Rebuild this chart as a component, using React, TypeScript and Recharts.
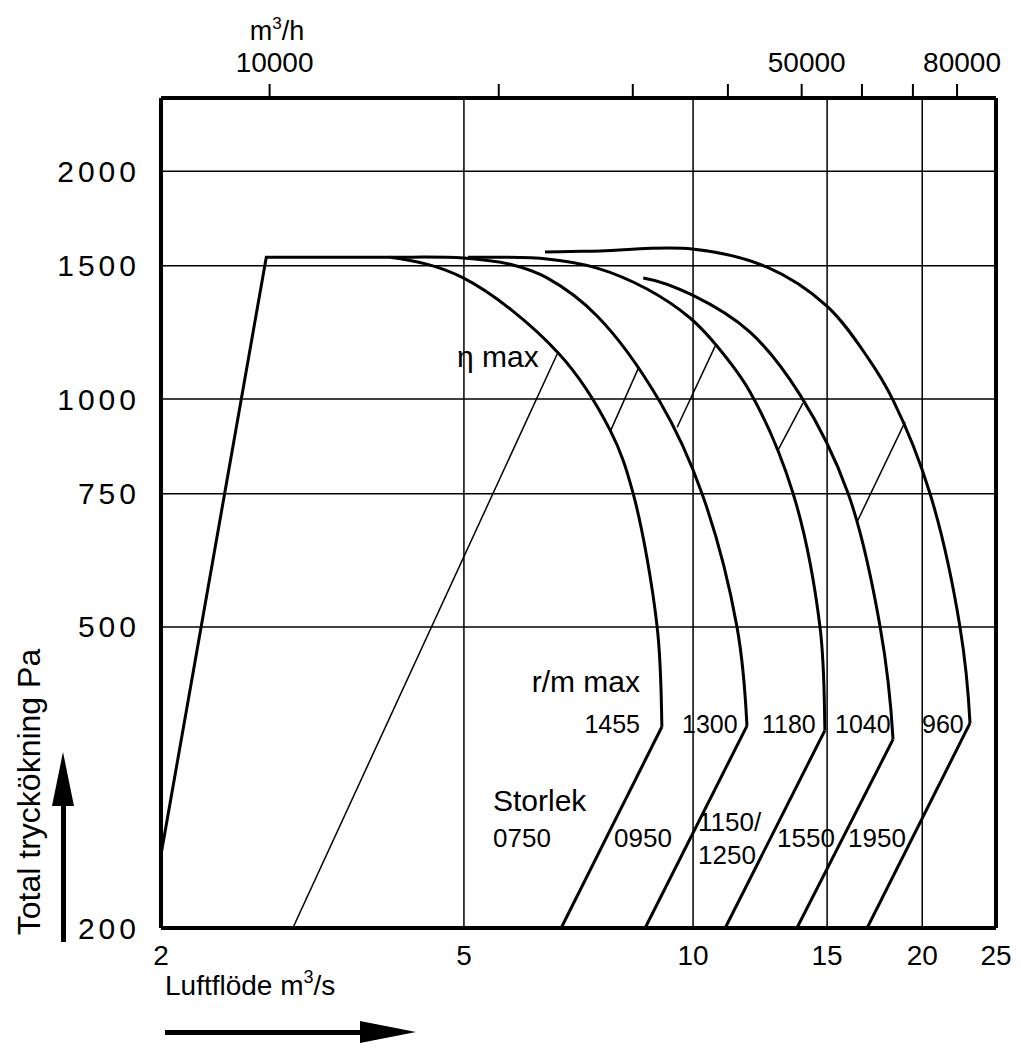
import React from 'react';
import { LineChart, Line, XAxis, YAxis, ReferenceLine } from 'recharts';

// axes
const flowTicks = [2, 5, 10, 15, 20, 25];
const hourTicks = [10000, 20000, 30000, 40000, 50000, 60000, 70000, 80000];
const hourLabels = [10000, 50000, 80000];
const pressureTicks = [200, 500, 750, 1000, 1500, 2000];
const gridFlows = [5, 10, 15, 20];
const gridPressures = [500, 750, 1000, 1500, 2000];

// size 0750, 1455 r/m
const surge0750 = [{ x: 2.0, y: 250 }, { x: 2.75, y: 1540 }, { x: 4.0, y: 1540 }];
const arc0750 = [
  { x: 4.0, y: 1540 }, { x: 4.99, y: 1446 }, { x: 6.65, y: 1151 },
  { x: 7.78, y: 910 }, { x: 8.34, y: 751 }, { x: 8.97, y: 500 }, { x: 9.1, y: 369 },
];
const leg0750 = [{ x: 9.1, y: 369 }, { x: 6.71, y: 200 }];

// size 0950, 1300 r/m
const arc0950 = [
  { x: 4.0, y: 1540 }, { x: 4.99, y: 1536 }, { x: 5.8, y: 1504 }, { x: 6.43, y: 1446 },
  { x: 7.48, y: 1288 }, { x: 9.05, y: 991 }, { x: 10.27, y: 751 }, { x: 11.42, y: 500 },
  { x: 11.77, y: 370 },
];
const leg0950 = [{ x: 11.77, y: 370 }, { x: 8.65, y: 200 }];

// size 1150/1250, 1180 r/m
const arc1150 = [
  { x: 5.06, y: 1540 }, { x: 6.43, y: 1532 }, { x: 7.48, y: 1490 }, { x: 8.7, y: 1398 },
  { x: 9.91, y: 1280 }, { x: 10.72, y: 1179 }, { x: 11.88, y: 1022 }, { x: 13.53, y: 751 },
  { x: 14.68, y: 500 }, { x: 14.9, y: 365 },
];
const leg1150 = [{ x: 14.9, y: 365 }, { x: 11.02, y: 200 }];

// size 1550, 1040 r/m
const arc1550 = [
  { x: 8.6, y: 1446 }, { x: 9.97, y: 1373 }, { x: 11.88, y: 1226 }, { x: 13.82, y: 1013 },
  { x: 15.98, y: 751 }, { x: 17.61, y: 500 }, { x: 18.31, y: 355 },
];
const leg1550 = [{ x: 18.31, y: 355 }, { x: 13.69, y: 200 }];

// size 1950, 960 r/m
const arc1950 = [
  { x: 6.39, y: 1565 }, { x: 7.55, y: 1570 }, { x: 9.97, y: 1579 }, { x: 12.51, y: 1494 },
  { x: 14.99, y: 1327 }, { x: 16.98, y: 1133 }, { x: 18.31, y: 997 }, { x: 20.47, y: 751 },
  { x: 22.42, y: 500 }, { x: 23.11, y: 373 },
];
const leg1950 = [{ x: 23.11, y: 373 }, { x: 16.93, y: 200 }];

// eta max lines
const eta0750 = [{ x: 2.98, y: 200 }, { x: 6.63, y: 1147 }];
const eta0950 = [{ x: 7.78, y: 905 }, { x: 8.49, y: 1103 }];
const eta1150 = [{ x: 9.53, y: 918 }, { x: 10.69, y: 1175 }];
const eta1550 = [{ x: 12.93, y: 856 }, { x: 13.94, y: 988 }];
const eta1950 = [{ x: 16.42, y: 688 }, { x: 18.99, y: 933 }];

const arcs = [arc0750, arc0950, arc1150, arc1550, arc1950];
const legs = [surge0750, leg0750, leg0950, leg1150, leg1550, leg1950];
const etas = [eta0750, eta0950, eta1150, eta1550, eta1950];

const FONT = 'Liberation Sans, Arial, Helvetica, sans-serif';

// top axis shares the m3/s scale, ticks placed at m3/h values
const hourTickFlows = hourTicks.map((h) => h / 3600);

// centripetal catmull-rom through the read points (pixel space);
// arcs leave flat at the start and run into vertical at r/m max
const smoothCurve = (context: any) => {
  let pts: number[][] = [];
  return {
    areaStart() {},
    areaEnd() {},
    lineStart() { pts = []; },
    point(x: number, y: number) { pts.push([+x, +y]); },
    lineEnd() {
      const n = pts.length;
      if (!n) return;
      context.moveTo(pts[0][0], pts[0][1]);
      if (n === 1) return;
      const len = (a: number[], b: number[]) => Math.sqrt(Math.hypot(b[0] - a[0], b[1] - a[1]));
      for (let i = 0; i < n - 1; i++) {
        const p1 = pts[i];
        const p2 = pts[i + 1];
        const p0 = pts[i - 1] || [2 * p1[0] - p2[0], p1[1]];
        const p3 = pts[i + 2] || [p2[0], 2 * p2[1] - p1[1]];
        const l01 = len(p0, p1), l12 = len(p1, p2), l23 = len(p2, p3);
        let c1 = p1, c2 = p2;
        if (l01 > 1e-6) {
          const a = 2 * l01 * l01 + 3 * l01 * l12 + l12 * l12;
          const m = 3 * l01 * (l01 + l12);
          c1 = [0, 1].map((k) => (p1[k] * a - p0[k] * l12 * l12 + p2[k] * l01 * l01) / m);
        }
        if (l23 > 1e-6) {
          const b = 2 * l23 * l23 + 3 * l23 * l12 + l12 * l12;
          const m = 3 * l23 * (l23 + l12);
          c2 = [0, 1].map((k) => (p2[k] * b + p1[k] * l23 * l23 - p3[k] * l12 * l12) / m);
        }
        context.bezierCurveTo(c1[0], c1[1], c2[0], c2[1], p2[0], p2[1]);
      }
    },
  };
};

const FlowTick = ({ x, y, payload }: any) => (
  <text x={x} y={y} dy={27} textAnchor="middle" dominantBaseline="central" fontSize={28} fontFamily={FONT} fill="#000">
    {payload.value}
  </text>
);

const HourTick = ({ x, y, payload }: any) => {
  const h = Math.round(payload.value * 3600);
  if (!hourLabels.includes(h)) return null;
  return (
    <text x={x + 5} y={y} dy={-22} textAnchor="middle" dominantBaseline="central" fontSize={28} fontFamily={FONT} fill="#000">
      {h}
    </text>
  );
};

const PressureTick = ({ x, y, payload }: any) => (
  <text x={x - 21} y={y} textAnchor="end" dominantBaseline="central" fontSize={30} letterSpacing={4} fontFamily={FONT} fill="#000">
    {payload.value}
  </text>
);

export default function App() {
  return (
    <div style={{ position: 'absolute', left: 0, top: 0, width: 1021, height: 1052, background: '#fff' }}>
      <LineChart width={1021} height={1052} margin={{ top: 58, right: 15, bottom: 84, left: 101 }}>
        <XAxis
          dataKey="x" type="number" scale="log" domain={[2, 25]} allowDataOverflow
          ticks={flowTicks} interval={0} tick={<FlowTick />} tickLine={false} tickSize={0} tickMargin={0}
          axisLine={{ stroke: '#000', strokeWidth: 4 }} height={40}
        />
        <XAxis
          xAxisId="top" dataKey="x" orientation="top" type="number" scale="log" domain={[2, 25]} allowDataOverflow
          ticks={hourTickFlows} interval={0} tick={<HourTick />} tickSize={14} tickMargin={0}
          tickLine={{ stroke: '#000', strokeWidth: 2 }}
          axisLine={{ stroke: '#000', strokeWidth: 4 }} height={40}
        />
        <YAxis
          type="number" scale="log" domain={[200, 2500]} allowDataOverflow
          ticks={pressureTicks} interval={0} tick={<PressureTick />} tickLine={false} tickSize={0} tickMargin={0}
          axisLine={{ stroke: '#000', strokeWidth: 4 }} width={60}
        />
        <YAxis
          yAxisId="right" orientation="right" type="number" scale="log" domain={[200, 2500]} allowDataOverflow
          tick={false} tickLine={false} axisLine={{ stroke: '#000', strokeWidth: 4 }} width={10}
        />
        {gridFlows.map((v) => (
          <ReferenceLine key={'gx' + v} x={v} stroke="#000" strokeWidth={1.5} />
        ))}
        {gridPressures.map((v) => (
          <ReferenceLine key={'gy' + v} y={v} stroke="#000" strokeWidth={1.5} />
        ))}
        {etas.map((d, i) => (
          <Line key={'eta' + i} xAxisId="top" data={d} dataKey="y" type="linear" stroke="#000" strokeWidth={1.5} dot={false} isAnimationActive={false} />
        ))}
        {legs.map((d, i) => (
          <Line key={'leg' + i} data={d} dataKey="y" type="linear" stroke="#000" strokeWidth={3} dot={false} isAnimationActive={false} />
        ))}
        {arcs.map((d, i) => (
          <Line key={'arc' + i} data={d} dataKey="y" type={smoothCurve as any} stroke="#000" strokeWidth={3} dot={false} isAnimationActive={false} />
        ))}
      </LineChart>
      <svg width={1021} height={1052} style={{ position: 'absolute', left: 0, top: 0, pointerEvents: 'none' }} fontFamily={FONT} fill="#000">
        <text x={277} y={40} textAnchor="middle" fontSize={27}>
          m<tspan dy={-11} fontSize={17}>3</tspan><tspan dy={11}>/h</tspan>
        </text>
        <text x={457} y={367} fontSize={30}>η max</text>
        <text x={640} y={692} textAnchor="end" fontSize={30}>r/m max</text>
        <text x={640} y={733} textAnchor="end" fontSize={25}>1455</text>
        <text x={682} y={733} fontSize={25}>1300</text>
        <text x={762} y={733} fontSize={25}>1180</text>
        <text x={835} y={733} fontSize={25}>1040</text>
        <text x={922} y={733} fontSize={25}>960</text>
        <text x={493} y={811} fontSize={30}>Storlek</text>
        <text x={493} y={847} fontSize={26}>0750</text>
        <text x={614} y={847} fontSize={26}>0950</text>
        <text x={698} y={831} fontSize={26}>1150/</text>
        <text x={698} y={864} fontSize={26}>1250</text>
        <text x={777} y={847} fontSize={26}>1550</text>
        <text x={848} y={847} fontSize={26}>1950</text>
        <text x={165} y={995} fontSize={28}>
          Luftflöde m<tspan dy={-12} fontSize={18}>3</tspan><tspan dy={12}>/s</tspan>
        </text>
        <text x={40} y={792} fontSize={32} textAnchor="middle" transform="rotate(-90 40 792)">Total tryckökning Pa</text>
        <rect x={61} y={800} width={5} height={142} />
        <polygon points="63,752 52,806 74,806" />
        <rect x={165} y={1030} width={198} height={5} />
        <polygon points="416,1032 360,1021 360,1043" />
      </svg>
    </div>
  );
}
